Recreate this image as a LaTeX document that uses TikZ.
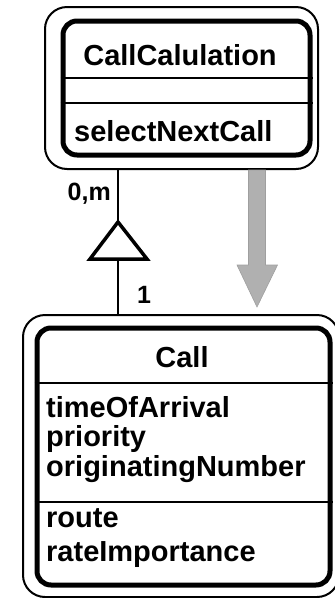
\documentclass[tikz,border=0pt]{standalone}
\usepackage{fontspec}
\setmainfont{Liberation Sans}
\usetikzlibrary{calc}
\begin{document}
\begin{tikzpicture}[x=1pt,y=-1pt,
  txt/.style={font=\fontsize{29}{30}\selectfont\bfseries, inner sep=0pt},
  mult/.style={font=\fontsize{25}{27}\selectfont\bfseries, inner sep=0pt},
  classin/.style={draw, line width=5pt, rounded corners=14pt, inner sep=0pt},
  classout/.style={draw, line width=2pt, rounded corners=22pt, inner sep=0pt},
  sep/.style={line width=2.5pt},
  conn/.style={line width=2pt},
  inherit/.style={draw, line width=3.5pt, line join=miter, fill=white},
  flow/.style={fill=gray!62, draw=gray!75, line width=0.6pt}]
\useasboundingbox (0,0) rectangle (335,598);

% CallCalulation class
\node[classout, minimum width=273pt, minimum height=162pt] (ccout) at (181.5,88) {};
\node[classin, minimum width=247pt, minimum height=134pt] (ccin) at (186.5,88) {};
\draw[sep] (ccin.west |- 0,78) -- (ccin.east |- 0,78);
\draw[sep] (ccin.west |- 0,103) -- (ccin.east |- 0,103);
\node[txt, anchor=base] (ccname) at (180,65) {CallCalulation};
\node[txt, anchor=base west] (ccop) at (74,141) {selectNextCall};

% Call class
\node[classout, minimum width=316pt, minimum height=282pt] (callout) at (181,456) {};
\node[classin, minimum width=293pt, minimum height=257pt] (callin) at (183.5,456.5) {};
\draw[sep] (callin.west |- 0,383) -- (callin.east |- 0,383);
\draw[sep] (callin.west |- 0,502) -- (callin.east |- 0,502);
\node[txt, anchor=base] (callname) at (182,367) {Call};
\node[txt, anchor=base west] (a1) at (46,417) {timeOfArrival};
\node[txt, anchor=base west] (a2) at (46,446) {priority};
\node[txt, anchor=base west] (a3) at (46,476) {originatingNumber};
\node[txt, anchor=base west] (o1) at (46,527) {route};
\node[txt, anchor=base west] (o2) at (46,561) {rateImportance};

% aggregation link with triangle
\coordinate (apex) at (118,222);
\coordinate (bl) at (90,259);
\coordinate (br) at (147,259);
\coordinate (bm) at (118,259);
\draw[conn] (ccout.south -| apex) -- (apex);
\draw[conn] (bm) -- (callout.north -| bm);
\draw[inherit] (apex) -- (br) -- (bl) -- cycle;
\node[mult, anchor=base east] (mult1) at (111,200) {0,m};
\node[mult, anchor=base west] (mult2) at (137,303) {1};

% grey flow arrow
\coordinate (ftop) at (257,170);
\path[flow] ($(ftop)+(-8.5,0)$) -- ++(17,0) -- ++(0,95) -- ++(12,0) -- (257,307) -- (237,265) -- ++(11.5,0) -- cycle;
\end{tikzpicture}
\end{document}
